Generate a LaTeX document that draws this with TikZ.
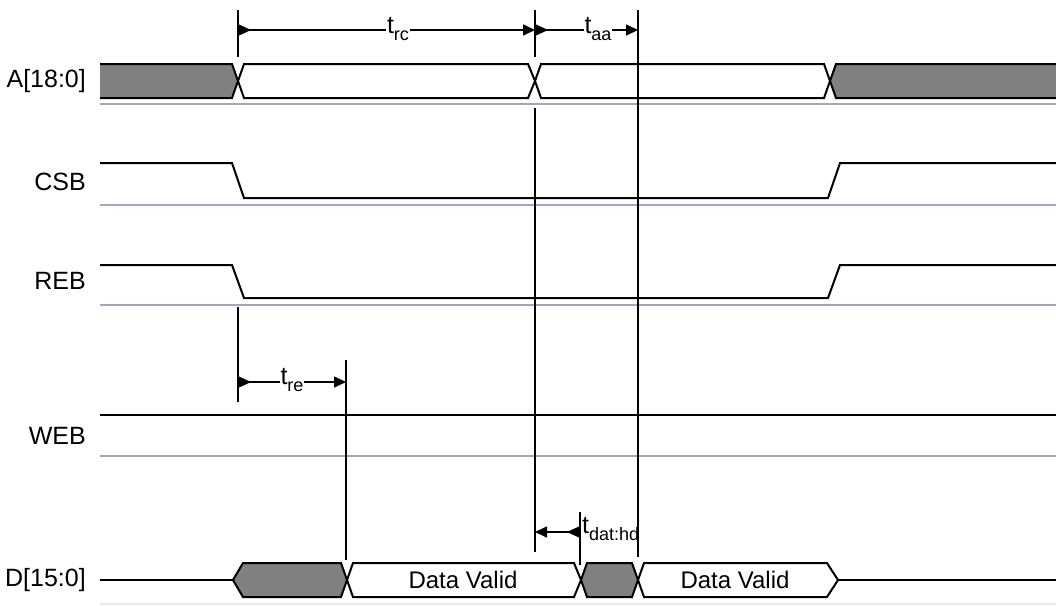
\documentclass[tikz,border=0pt]{standalone}
\usepackage{fontspec}
\setmainfont{Liberation Sans}
\usetikzlibrary{arrows.meta,calc}
\definecolor{busgrey}{RGB}{128,128,128}
\definecolor{basecol}{RGB}{165,165,190}
\newcommand\tsub[1]{t\raisebox{-0.28em}{\fontsize{18}{18}\selectfont #1}}
\begin{document}
\begin{tikzpicture}[x=1pt,y=-1pt,
  sig/.style={line width=2pt,black,line join=miter},
  busg/.style={fill=busgrey},
  busw/.style={sig,fill=white},
  baseln/.style={line width=2pt,basecol},
  vline/.style={line width=1.6pt,black},
  dimarr/.style={line width=1.6pt,-{Triangle[length=12pt,width=11pt]}},
  lbl/.style={font=\fontsize{25}{28}\selectfont,anchor=east,inner sep=0pt},
  tlbl/.style={font=\fontsize{25}{28}\selectfont,fill=white,inner sep=1pt},
  dv/.style={font=\fontsize{24}{27}\selectfont,inner sep=0pt}]
\useasboundingbox (0,0) rectangle (1056,605);

% signal labels
\node[lbl] (la) at (86,81) {A[18:0]};
\node[lbl] (lc) at (86,182) {CSB};
\node[lbl] (lr) at (86,281) {REB};
\node[lbl] (lw) at (86,436) {WEB};
\node[lbl] (ld) at (86,580) {D[15:0]};

% baselines
\draw[baseln] (100,104) -- (1056,104);
\draw[baseln] (100,205) -- (1056,205);
\draw[baseln] (100,305) -- (1056,305);
\draw[baseln] (100,456) -- (1056,456);
\draw[line width=1.5pt,black!8] (100,604) -- (1056,604);

% A bus
\fill[busg] (100,64) -- (232,64) -- (238,81) -- (232,98) -- (100,98) -- cycle;
\draw[sig] (100,64) -- (232,64) -- (238,81) -- (232,98) -- (100,98);
\draw[busw] (238,81) -- (244,64) -- (528,64) -- (535,81) -- (528,98) -- (244,98) -- cycle;
\draw[busw] (535,81) -- (541,64) -- (824,64) -- (830,81) -- (824,98) -- (541,98) -- cycle;
\fill[busg] (1056,64) -- (836,64) -- (830,81) -- (836,98) -- (1056,98) -- cycle;
\draw[sig] (1056,64) -- (836,64) -- (830,81) -- (836,98) -- (1056,98);

% CSB
\draw[sig] (100,163) -- (232,163) -- (244,198) -- (828,198) -- (840,163) -- (1056,163);
% REB
\draw[sig] (100,265) -- (232,265) -- (244,298) -- (828,298) -- (840,265) -- (1056,265);
% WEB
\draw[sig] (100,415) -- (1056,415);
% D bus
\draw[sig] (100,580) -- (233,580);
\draw[sig,busg] (233,580) -- (243,563) -- (341,563) -- (347,580) -- (341,597) -- (243,597) -- cycle;
\draw[busw] (347,580) -- (353,563) -- (574,563) -- (581,580) -- (574,597) -- (353,597) -- cycle;
\draw[sig,busg] (581,580) -- (587,563) -- (632,563) -- (638,580) -- (632,597) -- (587,597) -- cycle;
\draw[busw] (638,580) -- (644,563) -- (827,563) -- (838,580) -- (827,597) -- (644,597) -- cycle;
\draw[sig] (838,580) -- (1056,580);
\node[dv] (dv1) at (463,580) {Data Valid};
\node[dv] (dv2) at (735,580) {Data Valid};

% timing marker lines
\coordinate (m1t) at (238,10);  \coordinate (m1b) at (238,57);
\coordinate (m2t) at (535,10);  \coordinate (m2b) at (535,57);
\coordinate (m2c) at (535,108); \coordinate (m2d) at (535,552);
\coordinate (m3t) at (638,10);  \coordinate (m3b) at (638,557);
\coordinate (m4t) at (238,307); \coordinate (m4b) at (238,402);
\coordinate (m5t) at (346,360); \coordinate (m5b) at (346,560);
\coordinate (m6t) at (580,512); \coordinate (m6b) at (580,565);
\draw[vline] (m1t) -- (m1b);
\draw[vline] (m2t) -- (m2b);
\draw[vline] (m2c) -- (m2d);
\draw[vline] (m3t) -- (m3b);
\draw[vline] (m4t) -- (m4b);
\draw[vline] (m5t) -- (m5b);
\draw[vline] (m6t) -- (m6b);

% dimension arrows (start marker + main arrow)
\coordinate (rc1) at (238,30); \coordinate (rc2) at (535,30);
\coordinate (aa2) at (638,30);
\coordinate (re1) at (238,382); \coordinate (re2) at (346,382);
\coordinate (hd1) at (580,532); \coordinate (hd2) at (535,532);
\draw[dimarr] (rc1) -- (rc2);
\draw[dimarr] (rc2) -- (aa2);
\draw[dimarr] (re1) -- (re2);
\draw[dimarr] (hd1) -- (hd2);
\fill ($(rc1)+(0,-6)$) -- ($(rc1)+(13,0)$) -- ($(rc1)+(0,6)$) -- cycle;
\fill ($(rc2)+(0,-6)$) -- ($(rc2)+(13,0)$) -- ($(rc2)+(0,6)$) -- cycle;
\fill ($(re1)+(0,-6)$) -- ($(re1)+(13,0)$) -- ($(re1)+(0,6)$) -- cycle;
\fill ($(hd1)+(0,-6)$) -- ($(hd1)+(-13,0)$) -- ($(hd1)+(0,6)$) -- cycle;
\node[tlbl] (trc) at (398,29) {\tsub{rc}};
\node[tlbl] (taa) at (598,29) {\tsub{aa}};
\node[tlbl] (tre) at (292,380) {\tsub{re}};
\node[font=\fontsize{25}{28}\selectfont,anchor=west,inner sep=0pt] (thd) at (582,529) {\tsub{dat:hd}};
\end{tikzpicture}
\end{document}
